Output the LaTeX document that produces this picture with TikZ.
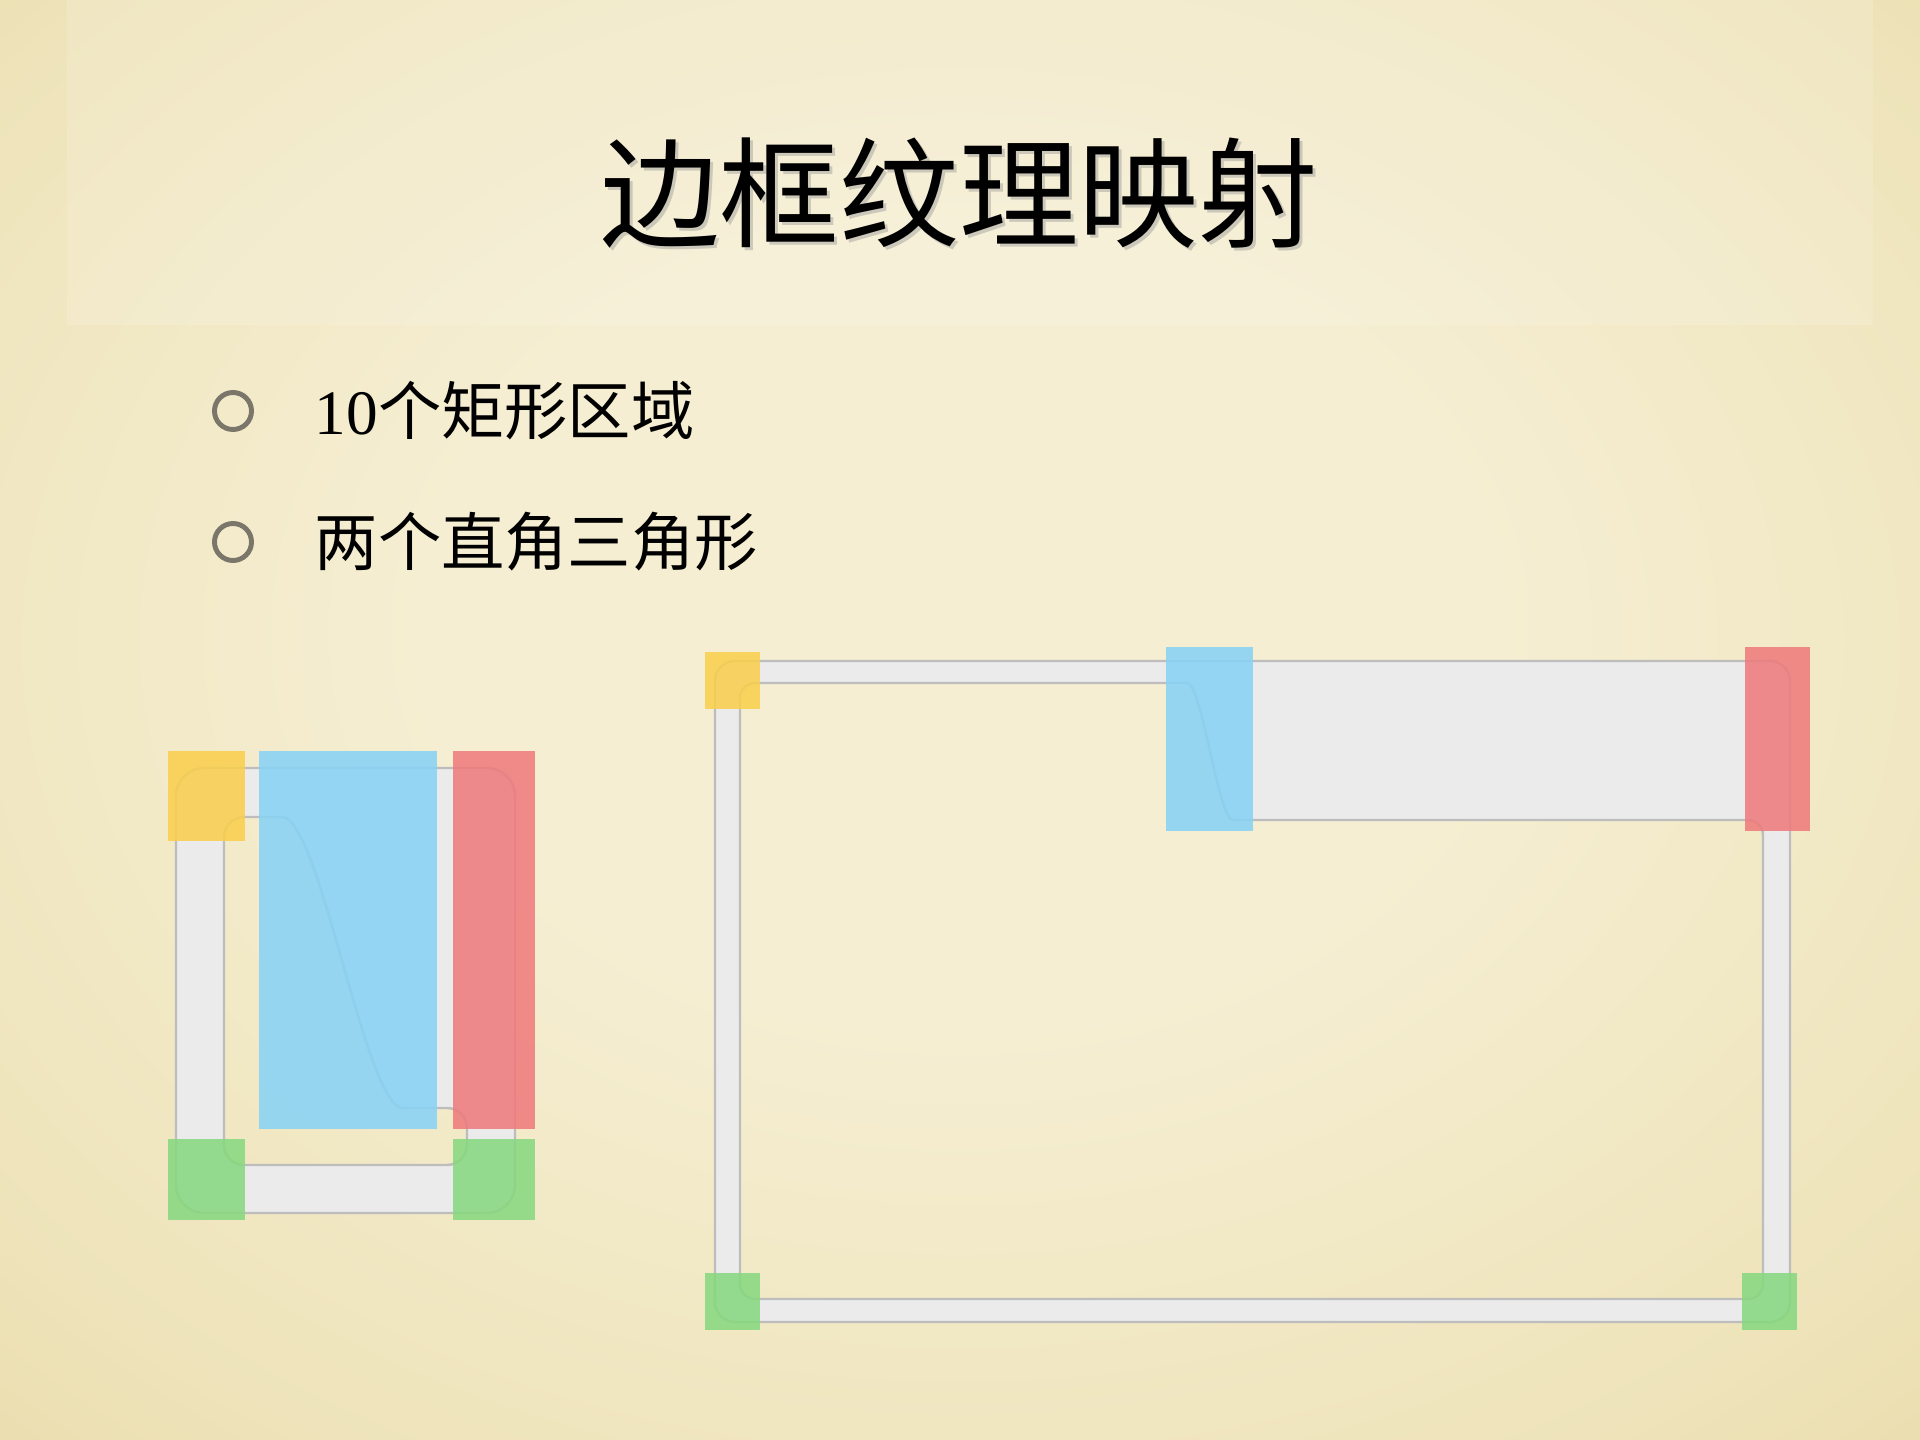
\documentclass[tikz,border=0pt]{standalone}
\usepackage{fontspec}
\setmainfont{Liberation Serif}
\newfontfamily\cjk{Noto Sans CJK SC}
\usepackage{xcolor}
\usetikzlibrary{positioning}
\definecolor{bgcenter}{HTML}{F5EED2}
\definecolor{bglight}{HTML}{EEE3B9}
\definecolor{bgmid}{HTML}{E4D49F}
\definecolor{bgedge}{HTML}{D5C089}
\definecolor{framefill}{HTML}{EBEBEB}
\definecolor{frameline}{HTML}{BDBDBD}
\definecolor{patchyellow}{HTML}{F9CF4C}
\definecolor{patchblue}{HTML}{86D2F6}
\definecolor{patchred}{HTML}{EF7A7C}
\definecolor{patchgreen}{HTML}{86D87F}
\definecolor{bulletring}{HTML}{7A776A}
\pgfdeclareradialshading{parchment}{\pgfpoint{0bp}{4bp}}{color(0bp)=(bgcenter); color(14bp)=(bgcenter); color(32bp)=(bglight); color(48bp)=(bgmid); color(72bp)=(bgedge)}
\tikzset{
	greyframe/.style = {fill=framefill, draw=frameline, line width=0.7pt, even odd rule},
	patch/.style = {fill opacity=0.86},
	yellowpatch/.style = {patch, fill=patchyellow},
	bluepatch/.style = {patch, fill=patchblue},
	redpatch/.style = {patch, fill=patchred},
	greenpatch/.style = {patch, fill=patchgreen},
	bullet/.style = {circle, draw=bulletring, line width=1.4pt, minimum size=0.37cm, inner sep=0},
	itemtext/.style = {inner sep=0, font=\fontsize{18pt}{22pt}\selectfont},
	titletext/.style = {inner sep=0, font=\cjk\fontsize{34pt}{40pt}\selectfont}
}
\begin{document}
\begin{tikzpicture}[x=0.01cm, y=-0.01cm]
	\useasboundingbox (0,0) rectangle (1920,1440);
	\fill[bgmid] (0,0) rectangle (1920,1440);
	\shade[shading=parchment] (0,0) rectangle (1920,1440);
	\fill[white, opacity=0.14] (67,0) rectangle (1873,325);
	
	\node [titletext, text=black!40, opacity=0.45] (titleshadow) at (962,196) {边框纹理映射};
	\node [titletext] (title) at (959,193) {边框纹理映射};
	
	\node [bullet] (b1) at (233,411) {};
	\node [bullet] (b2) at (233,542) {};
	\node [itemtext, right=0.6cm of b1] (item1) {10{\cjk 个矩形区域}};
	\node [itemtext, right=0.6cm of b2] (item2) {\cjk 两个直角三角形};
	
	% small frame
	\path [greyframe] [rounded corners=0.28cm] (176,768) rectangle (515,1213)
		[rounded corners=0.2cm] (224,1000) -- (224,1165) -- (467,1165) -- (467,1108) -- (423,1108)
		.. controls (365,1108) and (320,817) .. (262,817) -- (224,817) -- cycle;
	\fill [yellowpatch] (168,751) rectangle (245,841);
	\fill [bluepatch] (259,751) rectangle (437,1129);
	\fill [redpatch] (453,751) rectangle (535,1129);
	\fill [greenpatch] (168,1139) rectangle (245,1220);
	\fill [greenpatch] (453,1139) rectangle (535,1220);
	
	% large frame
	\path [greyframe] [rounded corners=0.2cm] (715,661) rectangle (1790,1322)
		[rounded corners=0.15cm] (740,1000) -- (740,1299) -- (1763,1299) -- (1763,820) -- (1248,820)
		.. controls (1218,820) and (1202,683) .. (1172,683) -- (740,683) -- cycle;
	\fill [yellowpatch] (705,652) rectangle (760,709);
	\fill [bluepatch] (1166,647) rectangle (1253,831);
	\fill [redpatch] (1745,647) rectangle (1810,831);
	\fill [greenpatch] (705,1273) rectangle (760,1330);
	\fill [greenpatch] (1742,1273) rectangle (1797,1330);
\end{tikzpicture}
\end{document}
